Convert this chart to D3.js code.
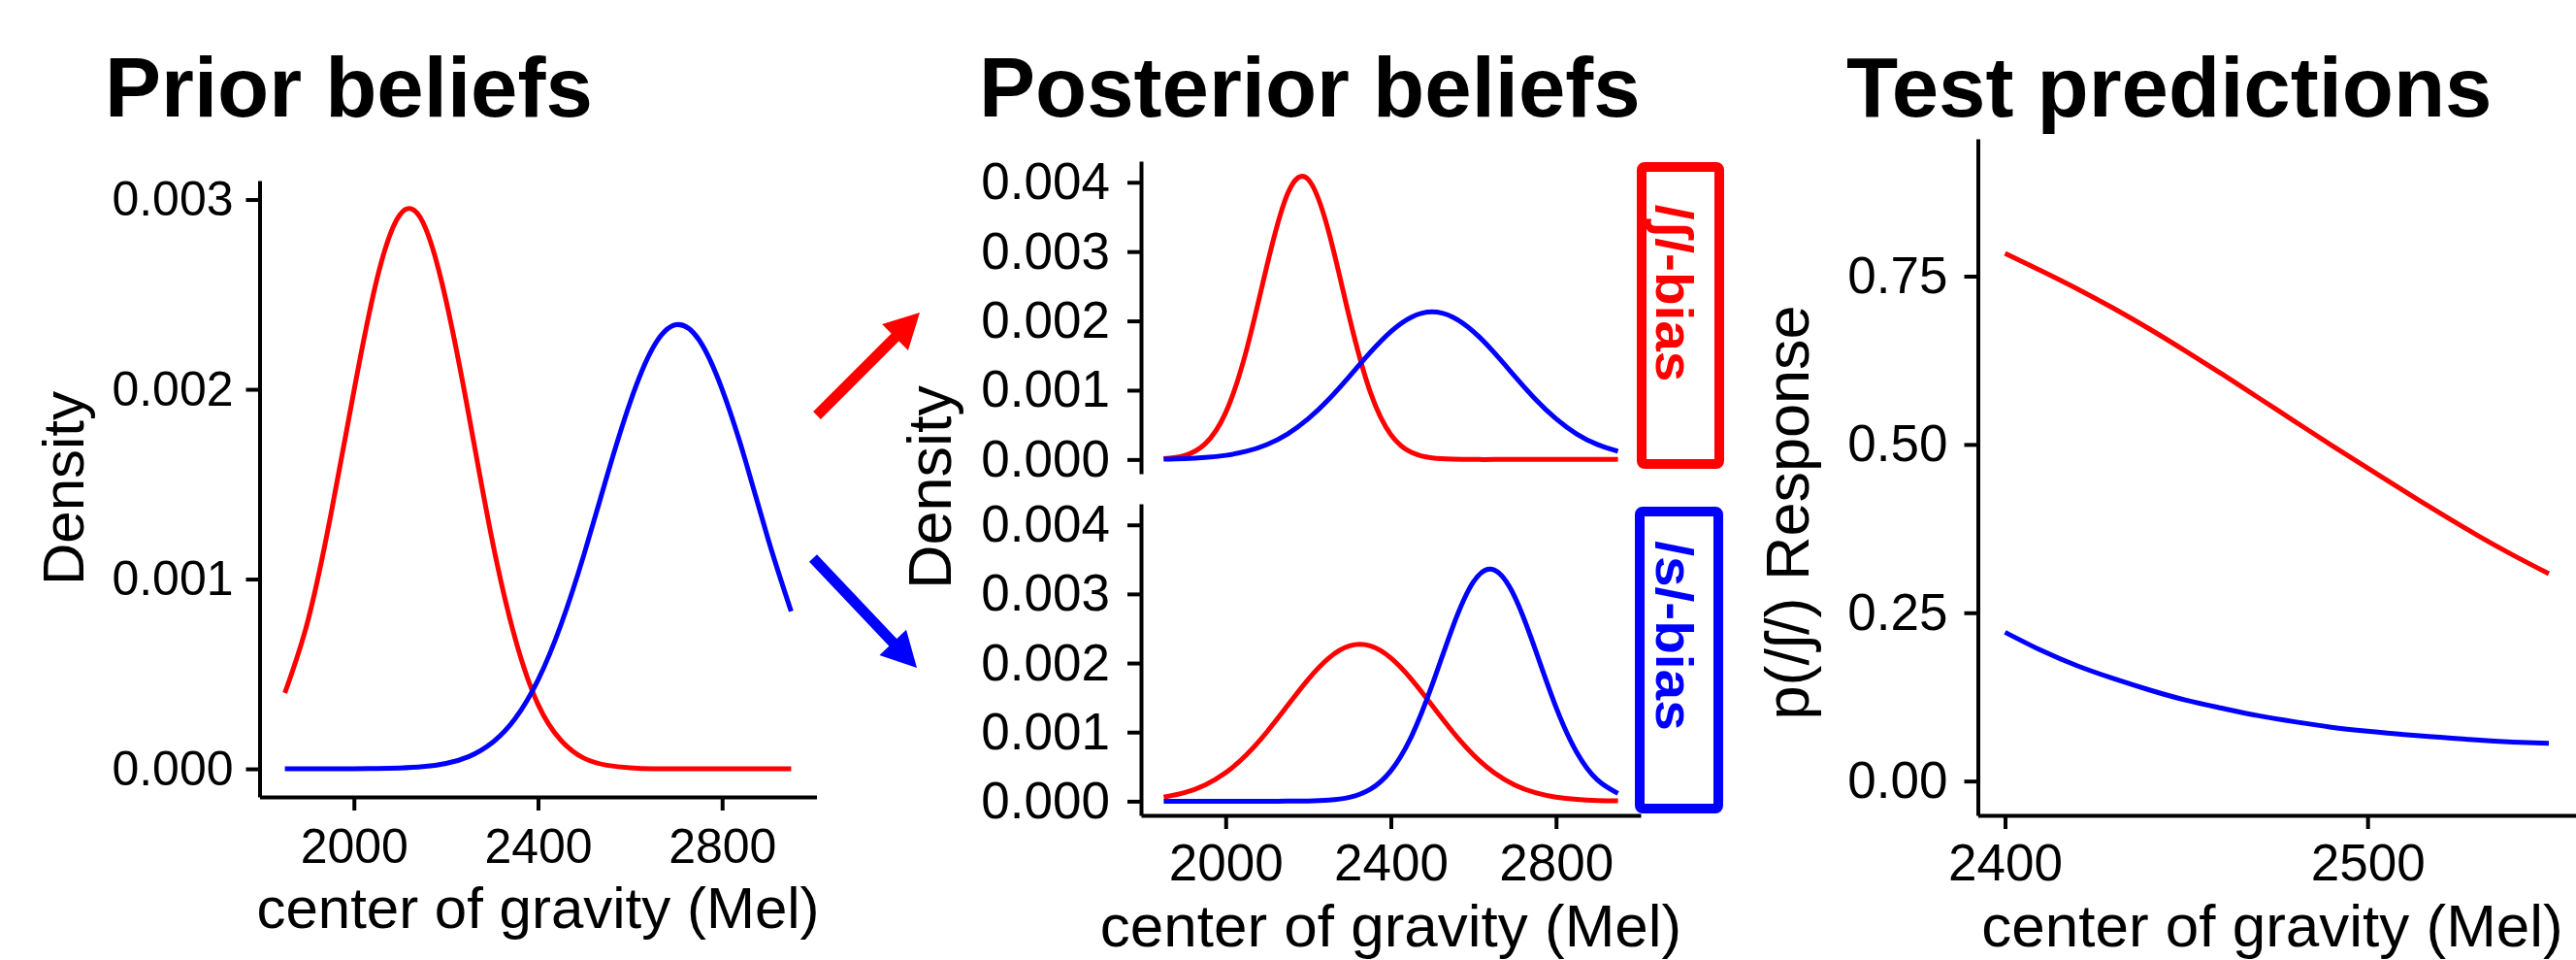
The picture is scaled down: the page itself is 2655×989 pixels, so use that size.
<!DOCTYPE html>
<html>
<head>
<meta charset="utf-8">
<script src="https://cdn.jsdelivr.net/npm/d3@7"></script>
<style>
  body { margin: 0; background: #fff; }
  svg text { font-family: "Liberation Sans", Arial, Helvetica, sans-serif; }
</style>
</head>
<body>
<div id="chart"></div>
<script>
// center of gravity grid (Mel) for the density curves
var cog = [1850, 1900, 1950, 2000, 2050, 2100, 2150, 2200, 2250, 2300, 2350, 2400,
           2450, 2500, 2550, 2600, 2650, 2700, 2750, 2800, 2850, 2900, 2950];

// prior beliefs (density)
var priorSh = [0.00040, 0.00078, 0.00134, 0.00199, 0.00258, 0.00292, 0.00288, 0.00247,
               0.00186, 0.00121, 0.00069, 0.00034, 0.00015, 0.000056, 0.000019, 0.000005,
               0, 0, 0, 0, 0, 0, 0];
var priorS = [0, 0, 0, 0.0000004, 0.0000014, 0.0000042, 0.0000113, 0.0000284, 0.000065,
              0.000137, 0.000264, 0.000468, 0.00076, 0.00113, 0.001544, 0.00193, 0.00222,
              0.00234, 0.00226, 0.00200, 0.00163, 0.00121, 0.00083];

// posterior beliefs, /ʃ/-bias exposure
var shBiasSh = [0.0000112, 0.000057, 0.000224, 0.000676, 0.001568, 0.002797, 0.003835,
                0.004041, 0.003275, 0.002041, 0.000977, 0.00036, 0.000102, 0.000022,
                0.0000037, 0, 0, 0, 0, 0, 0, 0, 0];
var shBiasS = [0.0000051, 0.0000124, 0.0000282, 0.0000596, 0.000118, 0.000216, 0.000369,
               0.000588, 0.000871, 0.001202, 0.001544, 0.001846, 0.002055, 0.00213,
               0.002055, 0.001846, 0.001544, 0.001202, 0.000871, 0.000588, 0.000369,
               0.000216, 0.000118];

// posterior beliefs, /s/-bias exposure
var sBiasSh = [0.0000595, 0.000123, 0.000235, 0.000413, 0.00067, 0.001003, 0.001385,
               0.001764, 0.002073, 0.002247, 0.002247, 0.002073, 0.001764, 0.001385,
               0.001003, 0.00067, 0.000413, 0.000235, 0.000123, 0.0000595, 0.0000265,
               0.0000109, 0.0000042];
var sBiasS = [0, 0, 0, 0, 0, 0, 0.0000007, 0.0000036, 0.0000156, 0.0000567, 0.000172,
              0.00044, 0.000939, 0.001682, 0.002524, 0.003175, 0.003348, 0.002959,
              0.002192, 0.00136, 0.000708, 0.000309, 0.000113];

// test predictions, p(/ʃ/) response
var testCog = [2400, 2410, 2420, 2430, 2440, 2450, 2460, 2470, 2480, 2490, 2500, 2510,
               2520, 2530, 2540, 2550];
var testShBias = [0.784, 0.758, 0.731, 0.702, 0.671, 0.638, 0.604, 0.569, 0.534, 0.499,
                  0.465, 0.431, 0.398, 0.366, 0.336, 0.308];
var testSBias = [0.221, 0.194, 0.171, 0.152, 0.135, 0.120, 0.108, 0.097, 0.088, 0.080,
                 0.074, 0.069, 0.065, 0.061, 0.058, 0.056];

var cogTicks = [2000, 2400, 2800];
var priorTicks = [0, 0.001, 0.002, 0.003];
var postTicks = [0, 0.001, 0.002, 0.003, 0.004];
var testXTicks = [2400, 2500];
var testYTicks = [0, 0.25, 0.5, 0.75];

var RED = '#ff0000', BLUE = '#0000ff';
var W = 2655, H = 989;

var svg = d3.select('#chart').append('svg')
    .attr('width', W)
    .attr('height', H);

function styleAxis(ax, size) {
  ax.select('.domain').attr('stroke', '#000').attr('stroke-width', 4);
  ax.selectAll('.tick line').attr('stroke', '#000').attr('stroke-width', 4);
  ax.selectAll('.tick text')
      .attr('fill', '#000')
      .attr('font-size', size)
      .attr('font-family', '"Liberation Sans", Arial, Helvetica, sans-serif');
}

function yAxis(scale, x, ticks, fmt, size, pad) {
  var ax = svg.append('g')
      .attr('transform', 'translate(' + x + ',0)')
      .call(d3.axisLeft(scale).tickValues(ticks).tickFormat(fmt)
        .tickSize(14).tickSizeOuter(0).tickPadding(pad));
  styleAxis(ax, size);
}

function xAxis(scale, y, ticks, size, pad) {
  var ax = svg.append('g')
      .attr('transform', 'translate(0,' + y + ')')
      .call(d3.axisBottom(scale).tickValues(ticks).tickFormat(d3.format('d'))
        .tickSize(14).tickSizeOuter(0).tickPadding(pad));
  styleAxis(ax, size);
}

function curve(xs, ys, x, y, color) {
  var line = d3.line()
      .x(function (d, i) { return x(xs[i]); })
      .y(function (d) { return y(d); })
      .curve(d3.curveNatural);
  svg.append('path')
      .datum(ys)
      .attr('d', line)
      .attr('fill', 'none')
      .attr('stroke', color)
      .attr('stroke-width', 5)
      .attr('stroke-linejoin', 'round');
}

function label(text, x, y, size, opts) {
  opts = opts || {};
  var tf = 'translate(' + x + ',' + y + ')';
  if (opts.rotate) tf += ' rotate(' + opts.rotate + ')';
  if (opts.stretch) tf += ' scale(' + opts.stretch + ',1)';
  return svg.append('text')
      .attr('transform', tf)
      .attr('font-size', size)
      .attr('font-weight', opts.bold ? 'bold' : 'normal')
      .attr('text-anchor', opts.anchor || 'middle')
      .attr('fill', opts.color || '#000')
      .text(text);
}

var dens3 = d3.format('.3f');

// ---- Prior beliefs ----
var px = d3.scaleLinear().domain([1795, 3005]).range([267.5, 841.5]);
var py = d3.scaleLinear().domain([-0.000148, 0.0031]).range([821, 186]);
curve(cog, priorSh, px, py, RED);
curve(cog, priorS, px, py, BLUE);
yAxis(py, 267.5, priorTicks, dens3, 50, 13);
xAxis(px, 821, cogTicks, 50, 18);
label('Prior beliefs', 108, 120, 87, { bold: true, anchor: 'start' });
label('Density', 86, 503, 60, { rotate: -90 });
label('center of gravity (Mel)', 554.5, 956, 60);

// ---- Posterior beliefs (two facets) ----
var qx = d3.scaleLinear().domain([1795, 3005]).range([1176, 1691]);
var qyTop = d3.scaleLinear().domain([-0.000205, 0.004305]).range([488, 166]);
var qyBot = d3.scaleLinear().domain([-0.000205, 0.004305]).range([840, 519]);
curve(cog, shBiasSh, qx, qyTop, RED);
curve(cog, shBiasS, qx, qyTop, BLUE);
curve(cog, sBiasSh, qx, qyBot, RED);
curve(cog, sBiasS, qx, qyBot, BLUE);
yAxis(qyTop, 1176, postTicks, dens3, 53, 18);
yAxis(qyBot, 1176, postTicks, dens3, 53, 18);
xAxis(qx, 840, cogTicks, 53, 15);
label('Posterior beliefs', 1009, 120, 87, { bold: true, anchor: 'start' });
label('Density', 980, 502, 63, { rotate: -90 });
label('center of gravity (Mel)', 1433.5, 975, 62);

// facet strips, boxed in the exposure colour
var strips = [
  { text: '/ʃ/-bias', color: RED, y0: 167, y1: 483, x0: 1687, x1: 1777, ty: 302 },
  { text: '/s/-bias', color: BLUE, y0: 522, y1: 838, x0: 1685, x1: 1776, ty: 655 }
];
strips.forEach(function (s) {
  svg.append('rect')
      .attr('x', s.x0 + 5).attr('y', s.y0 + 5)
      .attr('width', s.x1 - s.x0 - 10).attr('height', s.y1 - s.y0 - 10)
      .attr('rx', 3)
      .attr('fill', '#fff')
      .attr('stroke', s.color)
      .attr('stroke-width', 10);
  label(s.text, 1726, s.ty, 54, { rotate: 90, stretch: 1.05, bold: true, color: s.color })
      .attr('dy', '0.35em');
});

// arrows from prior to posterior
var arrows = [
  { from: [842, 428], to: [948, 322], color: RED },
  { from: [838, 575], to: [945, 688], color: BLUE }
];
arrows.forEach(function (a) {
  var dx = a.to[0] - a.from[0], dy = a.to[1] - a.from[1];
  var len = Math.sqrt(dx * dx + dy * dy), ux = dx / len, uy = dy / len;
  var hl = 36, hw = 19;
  var bx = a.to[0] - ux * hl, by = a.to[1] - uy * hl;
  svg.append('line')
      .attr('x1', a.from[0]).attr('y1', a.from[1])
      .attr('x2', bx + ux * 2).attr('y2', by + uy * 2)
      .attr('stroke', a.color).attr('stroke-width', 11);
  svg.append('path')
      .attr('d', 'M' + a.to[0] + ',' + a.to[1] +
        'L' + (bx - uy * hw) + ',' + (by + ux * hw) +
        'L' + (bx + uy * hw) + ',' + (by - ux * hw) + 'Z')
      .attr('fill', a.color);
});

// ---- Test predictions ----
var tx = d3.scaleLinear().domain([2392.5, 2557.5]).range([2038.5, 2655]);
var ty = d3.scaleLinear().domain([-0.051, 0.954]).range([840, 143]);
curve(testCog, testShBias, tx, ty, RED);
curve(testCog, testSBias, tx, ty, BLUE);
yAxis(ty, 2038.5, testYTicks, d3.format('.2f'), 53, 17);
xAxis(tx, 840, testXTicks, 53, 15);
label('Test predictions', 1903, 120, 87, { bold: true, anchor: 'start' });
label('p(/ʃ/) Response', 1864, 528, 63, { rotate: -90 });
label('center of gravity (Mel)', 2342, 975, 62);
</script>
</body>
</html>
